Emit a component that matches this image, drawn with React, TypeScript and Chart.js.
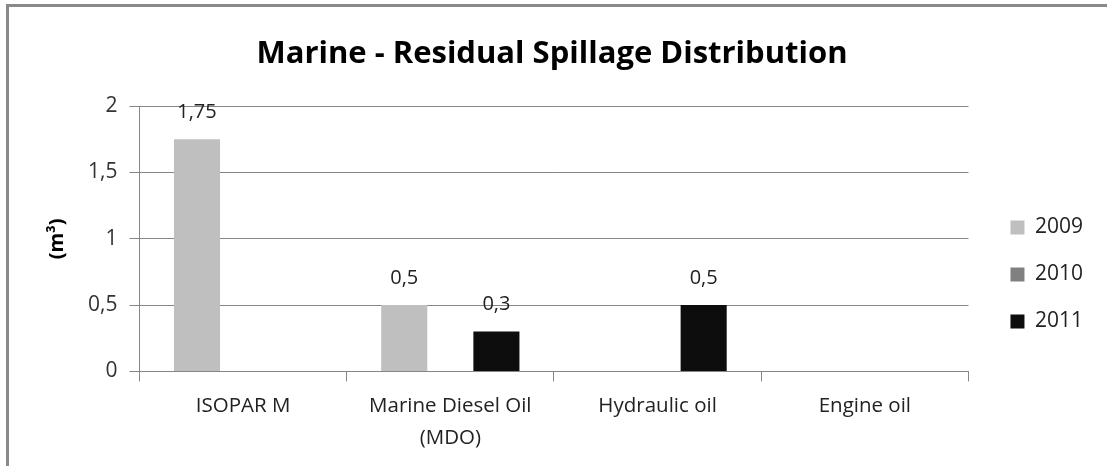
import React, { useEffect, useRef } from "react";
import { Chart, registerables } from "chart.js";

Chart.register(...registerables);

const categories: (string | string[])[] = ["ISOPAR M", ["Marine Diesel Oil", "(MDO)"], "Hydraulic oil", "Engine oil"];
const seriesNames = ["2009", "2010", "2011"];
const values2009 = [1.75, 0.5, 0, 0];
const values2010 = [0, 0, 0, 0];
const values2011 = [0, 0.3, 0.5, 0];
const seriesColors = ["#BFBFBF", "#808080", "#0D0D0D"];
const yTicks = [0, 0.5, 1, 1.5, 2];

const FONT = "'Open Sans', 'Noto Sans', sans-serif";

const fmt = (v: number) => String(v).replace(".", ",");

const dataLabels = {
  id: "dataLabels",
  afterDatasetsDraw(chart: any) {
    const ctx = chart.ctx;
    ctx.save();
    ctx.font = `20px ${FONT}`;
    ctx.fillStyle = "#222";
    ctx.textAlign = "center";
    ctx.textBaseline = "middle";
    chart.data.datasets.forEach((ds: any, i: number) => {
      const meta = chart.getDatasetMeta(i);
      meta.data.forEach((bar: any, j: number) => {
        const v = ds.data[j];
        if (v > 0) ctx.fillText(fmt(v), bar.x, bar.y - 27);
      });
    });
    ctx.restore();
  },
};

const legendShift = {
  id: "legendShift",
  afterLayout(chart: any) {
    const lg = chart.legend;
    if (!lg) return;
    const dx = 16;
    const dy = 30;
    lg.left += dx;
    lg.right += dx;
    lg.top += dy;
    lg.bottom += dy;
  },
};

export default function App() {
  const ref = useRef<HTMLCanvasElement>(null);
  useEffect(() => {
    if (!ref.current) return;
    const all = [values2009, values2010, values2011];
    const chart = new Chart(ref.current, {
      type: "bar",
      data: {
        labels: categories as any,
        datasets: seriesNames.map((n, i) => ({
          label: n,
          data: all[i],
          backgroundColor: seriesColors[i],
          categoryPercentage: 0.667,
          barPercentage: 1,
        })),
      },
      options: {
        animation: false,
        responsive: false,
        devicePixelRatio: 1,
        layout: { padding: { left: 20, right: 30, top: 22, bottom: 3 } },
        plugins: {
          title: {
            display: true,
            text: "Marine - Residual Spillage Distribution",
            font: { family: FONT, size: 31, weight: "bold" },
            color: "#000",
            padding: { top: 10, bottom: 33 },
          },
          legend: {
            position: "right",
            labels: {
              font: { family: FONT, size: 21 },
              color: "#222",
              boxWidth: 14,
              boxHeight: 14,
              padding: 26,
            },
          },
          tooltip: { enabled: false },
        },
        scales: {
          x: {
            grid: { drawOnChartArea: false, drawTicks: true, tickLength: 10, color: "#868686", offset: true },
            border: { color: "#868686" },
            ticks: { font: { family: FONT, size: 20.5, lineHeight: 1.6 }, color: "#222", padding: 8 },
          },
          y: {
            min: 0,
            max: 2,
            afterBuildTicks: (axis: any) => {
              axis.ticks = yTicks.map((v) => ({ value: v }));
            },
            grid: { color: "#868686", tickLength: 10 },
            border: { color: "#868686" },
            ticks: {
              font: { family: FONT, size: 21 },
              color: "#333",
              padding: 12,
              callback: (v: any) => fmt(Number(v)),
            },
            title: {
              display: true,
              text: "(m³)",
              font: { family: FONT, size: 20, weight: "bold" },
              color: "#000",
              padding: { top: 18, bottom: 7 },
            },
          },
        },
      },
      plugins: [dataLabels, legendShift],
    });
    return () => chart.destroy();
  }, []);
  return (
    <div style={{ position: "fixed", left: 0, top: 0, width: 1107, height: 466, overflow: "hidden", background: "#fff" }}>
      <div
        style={{
          position: "absolute",
          left: 6,
          top: 4,
          width: 1200,
          height: 600,
          border: "3px solid #898989",
        }}
      />
      <canvas ref={ref} width={1100} height={462} style={{ position: "absolute", left: 7, top: 4 }} />
    </div>
  );
}
